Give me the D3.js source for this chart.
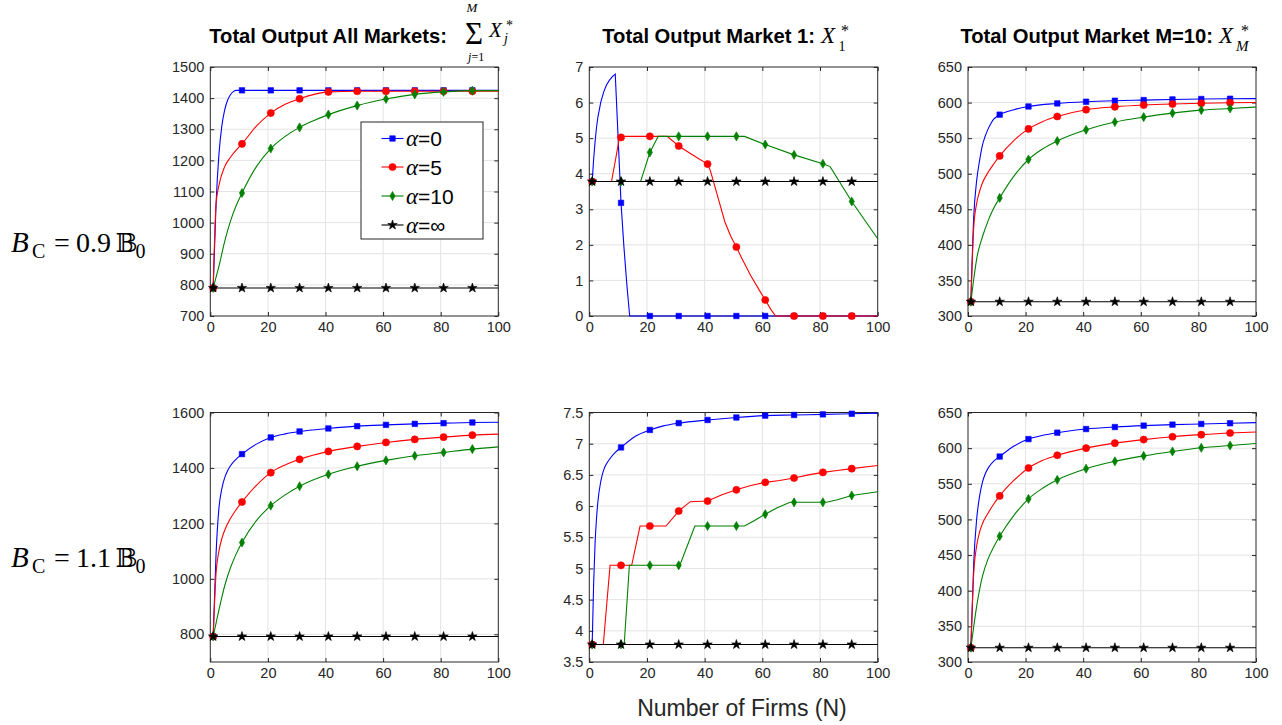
<!DOCTYPE html>
<html>
<head>
<meta charset="utf-8">
<script src="https://cdn.jsdelivr.net/npm/d3@7"></script>
<style>
  body { margin: 0; background: #fff; }
  svg { display: block; font-family: "Liberation Sans", Arial, Helvetica, sans-serif; }
</style>
</head>
<body>
<svg id="chart" width="1282" height="725"></svg>
<script>
// ---------------------------------------------------------------
// Data: [N, output] knots read per curve. Markers sit at N = 1, 11, ..., 91.
// ---------------------------------------------------------------
const markerN = [1, 11, 21, 31, 41, 51, 61, 71, 81, 91];
const xTicks = [0, 20, 40, 60, 80, 100];

const seriesLabels = ["0", "5", "10", "∞"];           // alpha values
const seriesColors = ["#0000ff", "#ff0000", "#008000", "#000000"];

// Row 1: B_C = 0.9 B_0 ------------------------------------------------
const totB09_a0 = [[1,790],[2,1060],[3,1220],[4,1310],[5,1362],[6,1393],[7,1411],[8,1421],[9,1425],[11,1425],[21,1425],[31,1425],[41,1425],[51,1425],[61,1425],[71,1425],[81,1425],[91,1425],[100,1425]];
const totB09_a5 = [[1,790],[2,1060],[3,1120],[5,1180],[7,1210],[9,1233],[11,1253],[16,1310],[21,1352],[26,1380],[31,1398],[36,1412],[41,1420],[51,1422],[61,1422],[71,1422],[81,1422],[91,1422],[100,1422]];
const totB09_a10 = [[1,790],[3,860],[5,940],[7,1005],[9,1055],[11,1095],[16,1180],[21,1238],[26,1277],[31,1306],[36,1328],[41,1347],[51,1376],[61,1397],[71,1412],[81,1420],[91,1424],[100,1424]];
const totB09_inf = [[0,790],[1,790],[11,790],[21,790],[31,790],[41,790],[51,790],[61,790],[71,790],[81,790],[91,790],[100,790]];

const m1B09_a0 = [[1,3.78],[1.5,4.4],[2,4.9],[2.5,5.3],[3,5.6],[4,6.02],[5,6.3],[6,6.5],[7,6.63],[8,6.73],[9,6.8],[10,5.0],[11,3.18],[12,1.95],[13,0.9],[14,0],[21,0],[31,0],[41,0],[51,0],[61,0],[71,0],[81,0],[91,0],[100,0]];
const m1B09_a5 = [[1,3.78],[7.7,3.78],[9,4.35],[10.4,5.0],[11,5.02],[12,5.05],[21,5.05],[27,5.05],[31,4.78],[36,4.52],[41,4.27],[42,4.08],[43,3.8],[45,3.22],[47,2.65],[49,2.25],[51,1.94],[53,1.6],[56,1.13],[59,0.72],[61,0.45],[63,0.18],[64.6,0],[71,0],[81,0],[91,0],[100,0]];
const m1B09_a10 = [[1,3.78],[11,3.78],[17.8,3.78],[21,4.6],[23.9,5.05],[31,5.05],[41,5.05],[51,5.05],[53.8,5.05],[61,4.82],[71,4.53],[81,4.28],[83.5,4.2],[91,3.22],[100,2.17]];
const m1B09_inf = [[0,3.78],[1,3.78],[11,3.78],[21,3.78],[31,3.78],[41,3.78],[51,3.78],[61,3.78],[71,3.78],[81,3.78],[91,3.78],[100,3.78]];

const mMB09_a0 = [[1,320],[2,440],[3,490],[4,518],[5,540],[6,553],[7,563],[8,571],[9,577],[10,580.5],[11,583],[16,590],[21,594.5],[31,598.8],[41,601.2],[51,602.6],[61,603.5],[71,604.4],[81,605],[91,605.4],[100,605.6]];
const mMB09_a5 = [[1,320],[2,425],[3,458],[4,475],[5,487],[7,502],[9,514],[11,525],[16,547],[21,563],[26,573.5],[31,580.5],[41,590],[51,594],[61,596.5],[71,598],[81,599],[91,599.7],[100,600]];
const mMB09_a10 = [[1,320],[2,352],[3,380],[5,411],[7,434],[9,452],[11,466],[16,497],[21,520],[26,535],[31,546],[41,561.7],[51,572.6],[61,579.6],[71,585.2],[81,589.4],[91,591.7],[100,593.7]];
const mMB09_inf = [[0,320],[1,320],[11,320],[21,320],[31,320],[41,320],[51,320],[61,320],[71,320],[81,320],[91,320],[100,320]];

// Row 2: B_C = 1.1 B_0 ------------------------------------------------
const totB11_a0 = [[1,792],[2,1090],[3,1255],[4,1325],[5,1365],[6,1390],[7,1408],[9,1432],[11,1450],[16,1486],[21,1510],[26,1523],[31,1531.6],[41,1542.4],[51,1550.7],[61,1555.4],[71,1559],[81,1561.5],[91,1564],[100,1565]];
const totB11_a5 = [[1,792],[2,1020],[3,1100],[4,1145],[5,1175],[7,1218],[9,1250],[11,1277],[16,1337],[21,1383],[26,1411],[31,1431],[41,1459.7],[51,1477.7],[61,1492],[71,1503],[81,1511],[91,1518.3],[100,1522]];
const totB11_a10 = [[1,792],[2,840],[3,888],[4,933],[5,975],[7,1040],[9,1090],[11,1131],[16,1210],[21,1264],[26,1303],[31,1334],[41,1377],[51,1405.8],[61,1427.3],[71,1444],[81,1456],[91,1468],[100,1476]];
const totB11_inf = [[0,792],[1,792],[11,792],[21,792],[31,792],[41,792],[51,792],[61,792],[71,792],[81,792],[91,792],[100,792]];

const m1B11_a0 = [[1,3.78],[1.5,4.75],[2,5.4],[2.5,5.8],[3,6.08],[4,6.4],[5,6.58],[6,6.68],[7,6.75],[9,6.86],[11,6.94],[16,7.12],[21,7.22],[26,7.29],[31,7.33],[41,7.38],[51,7.42],[61,7.45],[71,7.46],[81,7.47],[91,7.48],[100,7.49]];
const m1B11_a5 = [[1,3.78],[4.86,3.78],[7.2,5.05],[11,5.05],[14.7,5.05],[17.6,5.68],[21,5.68],[26.6,5.68],[31,5.92],[35,6.07],[41,6.08],[46,6.18],[51,6.26],[56,6.33],[61,6.38],[66,6.41],[71,6.45],[76,6.5],[81,6.54],[86,6.57],[91,6.6],[100,6.65]];
const m1B11_a10 = [[1,3.78],[11,3.78],[12.1,3.78],[13.9,5.05],[21,5.05],[31,5.05],[31.4,5.05],[36.6,5.68],[41,5.68],[51,5.68],[53.8,5.68],[57,5.76],[61,5.87],[65,5.97],[69.6,6.06],[71,6.06],[81,6.06],[82.3,6.06],[86,6.1],[91,6.17],[100,6.23]];
const m1B11_inf = [[0,3.78],[1,3.78],[11,3.78],[21,3.78],[31,3.78],[41,3.78],[51,3.78],[61,3.78],[71,3.78],[81,3.78],[91,3.78],[100,3.78]];

const mMB11_a0 = [[1,320],[2,440],[3,500],[4,532],[5,552],[6,564],[7,572],[9,582],[11,588.2],[16,603],[21,612.7],[26,618],[31,621.7],[41,626.8],[51,629.6],[61,631.6],[71,633],[81,633.9],[91,634.9],[100,635.8]];
const mMB11_a5 = [[1,320],[2,425],[3,463],[4,482],[5,494],[7,509],[9,522],[11,533],[16,555],[21,572.2],[26,583],[31,590],[41,600],[51,607],[61,612],[71,616],[81,618.9],[91,621.2],[100,622.6]];
const mMB11_a10 = [[1,320],[2,350],[3,378],[4,401],[5,420],[7,445],[9,462],[11,476.4],[16,506],[21,528.8],[26,544],[31,555.6],[41,571.2],[51,581.5],[61,589.1],[71,595.3],[81,600.5],[91,603.7],[100,606.5]];
const mMB11_inf = [[0,320],[1,320],[11,320],[21,320],[31,320],[41,320],[51,320],[61,320],[71,320],[81,320],[91,320],[100,320]];

// y tick values per panel
const yTicksTotB09 = [700, 800, 900, 1000, 1100, 1200, 1300, 1400, 1500];
const yTicksM1B09  = [0, 1, 2, 3, 4, 5, 6, 7];
const yTicksMM     = [300, 350, 400, 450, 500, 550, 600, 650];
const yTicksTotB11 = [800, 1000, 1200, 1400, 1600];
const yTicksM1B11  = [3.5, 4, 4.5, 5, 5.5, 6, 6.5, 7, 7.5];

// ---------------------------------------------------------------
// Layout
// ---------------------------------------------------------------
const svg = d3.select("#chart");
const colX = [[210.3, 498.3], [589.3, 877.7], [968, 1256]];
const rowY = [[67, 316], [412.5, 662]];
const axisColor = "#262626";
const gridColor = "#e3e3e3";
const fontSans = "'Liberation Sans', Arial, Helvetica, sans-serif";
const fontSerif = "'Liberation Serif', 'Times New Roman', 'DejaVu Serif', serif";

const lin = d3.curveLinear, mono = d3.curveMonotoneX;
const panels = [
  { row: 0, col: 0, yDomain: [700, 1500], yTicks: yTicksTotB09, curves: [mono, mono, mono, lin],
    series: [totB09_a0, totB09_a5, totB09_a10, totB09_inf], legend: true },
  { row: 0, col: 1, yDomain: [0, 7], yTicks: yTicksM1B09, curves: [lin, lin, lin, lin],
    series: [m1B09_a0, m1B09_a5, m1B09_a10, m1B09_inf] },
  { row: 0, col: 2, yDomain: [300, 650], yTicks: yTicksMM, curves: [mono, mono, mono, lin],
    series: [mMB09_a0, mMB09_a5, mMB09_a10, mMB09_inf] },
  { row: 1, col: 0, yDomain: [700, 1600], yTicks: yTicksTotB11, curves: [mono, mono, mono, lin],
    series: [totB11_a0, totB11_a5, totB11_a10, totB11_inf] },
  { row: 1, col: 1, yDomain: [3.5, 7.5], yTicks: yTicksM1B11, curves: [mono, lin, lin, lin],
    series: [m1B11_a0, m1B11_a5, m1B11_a10, m1B11_inf] },
  { row: 1, col: 2, yDomain: [300, 650], yTicks: yTicksMM, curves: [mono, mono, mono, lin],
    series: [mMB11_a0, mMB11_a5, mMB11_a10, mMB11_inf] }
];

// marker shapes: square, circle, diamond, star
const markerSymbols = [
  d3.symbol().type(d3.symbolSquare).size(30),
  d3.symbol().type(d3.symbolCircle).size(40),
  d3.symbol().type(d3.symbolDiamond).size(24),
  d3.symbol().type(d3.symbolStar).size(28)
];

function styleAxis(sel) {
  sel.select(".domain").remove();
  sel.selectAll(".tick line").attr("stroke", axisColor).attr("stroke-width", 1);
  sel.selectAll(".tick text")
    .attr("fill", axisColor)
    .attr("font-size", 14.5)
    .attr("font-family", fontSans);
}

panels.forEach(p => {
  const [x0, x1] = colX[p.col];
  const [y0, y1] = rowY[p.row];
  const x = d3.scaleLinear().domain([0, 100]).range([x0, x1]);
  const y = d3.scaleLinear().domain(p.yDomain).range([y1, y0]);
  const g = svg.append("g");

  // grid
  g.selectAll(null).data(xTicks.filter(t => t > 0 && t < 100)).join("line")
    .attr("x1", d => x(d)).attr("x2", d => x(d)).attr("y1", y0).attr("y2", y1)
    .attr("stroke", gridColor).attr("stroke-width", 1);
  g.selectAll(null).data(p.yTicks.filter(t => t > p.yDomain[0] && t < p.yDomain[1])).join("line")
    .attr("x1", x0).attr("x2", x1).attr("y1", d => y(d)).attr("y2", d => y(d))
    .attr("stroke", gridColor).attr("stroke-width", 1);

  // axes with inward ticks on all four sides
  const tk = 4;
  g.append("g").attr("transform", `translate(0,${y1})`)
    .call(d3.axisBottom(x).tickValues(xTicks).tickFormat(d => String(d))
      .tickSizeInner(-tk).tickSizeOuter(0).tickPadding(6))
    .call(styleAxis);
  g.append("g").attr("transform", `translate(0,${y0})`)
    .call(d3.axisTop(x).tickValues(xTicks).tickFormat("").tickSizeInner(-tk).tickSizeOuter(0))
    .call(styleAxis);
  g.append("g").attr("transform", `translate(${x0},0)`)
    .call(d3.axisLeft(y).tickValues(p.yTicks).tickFormat(d => String(d))
      .tickSizeInner(-tk).tickSizeOuter(0).tickPadding(6))
    .call(styleAxis);
  g.append("g").attr("transform", `translate(${x1},0)`)
    .call(d3.axisRight(y).tickValues(p.yTicks).tickFormat("").tickSizeInner(-tk).tickSizeOuter(0))
    .call(styleAxis);

  g.append("rect")
    .attr("x", x0).attr("y", y0).attr("width", x1 - x0).attr("height", y1 - y0)
    .attr("fill", "none").attr("stroke", axisColor).attr("stroke-width", 1);

  // series lines and markers
  p.series.forEach((data, i) => {
    const line = d3.line().x(d => x(d[0])).y(d => y(d[1])).curve(p.curves[i]);
    g.append("path").datum(data)
      .attr("d", line)
      .attr("fill", "none")
      .attr("stroke", seriesColors[i])
      .attr("stroke-width", 1.1);
    g.selectAll(null).data(data.filter(d => markerN.includes(d[0]))).join("path")
      .attr("d", markerSymbols[i])
      .attr("transform", d => `translate(${x(d[0])},${y(d[1])})`)
      .attr("fill", seriesColors[i])
      .attr("stroke", seriesColors[i])
      .attr("stroke-width", 0.6);
  });

  // legend
  if (p.legend) {
    const lg = g.append("g");
    lg.append("rect").attr("x", 361).attr("y", 122).attr("width", 122).attr("height", 117)
      .attr("fill", "#fff").attr("stroke", axisColor).attr("stroke-width", 1);
    const rowCy = [138.5, 167, 196, 225];
    seriesLabels.forEach((lab, i) => {
      const cy = rowCy[i];
      lg.append("line").attr("x1", 381.5).attr("x2", 403.5).attr("y1", cy).attr("y2", cy)
        .attr("stroke", seriesColors[i]).attr("stroke-width", 1.1);
      lg.append("path").attr("d", markerSymbols[i]).attr("transform", `translate(392.5,${cy})`)
        .attr("fill", seriesColors[i]).attr("stroke", seriesColors[i]).attr("stroke-width", 0.6);
      const t = lg.append("text").attr("x", 406).attr("y", cy + 7.5).attr("fill", "#000");
      t.append("tspan").attr("font-family", fontSerif).attr("font-style", "italic")
        .attr("font-size", 23).text("α");
      t.append("tspan").attr("font-family", fontSans).attr("font-size", 21).text("=" + lab);
    });
  }
});

// ---------------------------------------------------------------
// Titles: bold caption followed by a math expression built from
// positioned pieces inside one text element.
// ---------------------------------------------------------------
function boldTitle(xEnd, text) {
  svg.append("text").attr("x", xEnd).attr("y", 42.7).attr("text-anchor", "end")
    .attr("font-family", fontSans).attr("font-weight", "bold").attr("font-size", 20.2)
    .attr("fill", "#000").text(text);
}
// pieces: {x, y, size, t, it (italic), anchor}
function mathGroup(pieces) {
  const t = svg.append("text").attr("font-family", fontSerif).attr("fill", "#000");
  pieces.forEach(p => {
    t.append("tspan")
      .attr("x", p.x).attr("y", p.y)
      .attr("font-size", p.size)
      .attr("font-style", p.it ? "italic" : "normal")
      .attr("text-anchor", p.anchor || "start")
      .text(p.t);
  });
  return t;
}

boldTitle(447, "Total Output All Markets:");
mathGroup([
  { x: 474, y: 43.5, size: 31, t: "Σ", anchor: "middle" },
  { x: 472, y: 12, size: 13, t: "M", it: true, anchor: "middle" },
  { x: 468, y: 61, size: 12, t: "j", it: true },
  { x: 471.5, y: 61, size: 12, t: "=1" },
  { x: 489, y: 37.3, size: 21, t: "X", it: true },
  { x: 506, y: 30, size: 14, t: "*" },
  { x: 504, y: 43, size: 14, t: "j", it: true }
]);

boldTitle(815, "Total Output Market 1:");
mathGroup([
  { x: 821, y: 42.7, size: 23, t: "X", it: true },
  { x: 841, y: 35.5, size: 16, t: "*" },
  { x: 838.5, y: 50.5, size: 14, t: "1" }
]);

boldTitle(1213, "Total Output Market M=10:");
mathGroup([
  { x: 1219, y: 42.7, size: 23, t: "X", it: true },
  { x: 1241, y: 35.5, size: 16, t: "*" },
  { x: 1236, y: 51, size: 15, t: "M", it: true }
]);

// ---------------------------------------------------------------
// Row labels: B_C = k B_0
// ---------------------------------------------------------------
const rowFactors = ["0.9", "1.1"];
const rowBaselines = [251.7, 566.7];
rowFactors.forEach((f, i) => {
  const yb = rowBaselines[i];
  mathGroup([
    { x: 11, y: yb, size: 29, t: "B", it: true },
    { x: 32, y: yb + 6.6, size: 20, t: "C" },
    { x: 54, y: yb, size: 28, t: "=" },
    { x: 111, y: yb, size: 28, t: f, anchor: "end" },
    { x: 115.5, y: yb, size: 26, t: "𝔹" },
    { x: 135.5, y: yb + 6.6, size: 20, t: "0" }
  ]);
});

// ---------------------------------------------------------------
// Shared x-axis label
// ---------------------------------------------------------------
svg.append("text").attr("x", 742).attr("y", 716).attr("text-anchor", "middle")
  .attr("font-family", fontSans).attr("font-size", 23).attr("fill", axisColor)
  .text("Number of Firms (N)");
</script>
</body>
</html>
